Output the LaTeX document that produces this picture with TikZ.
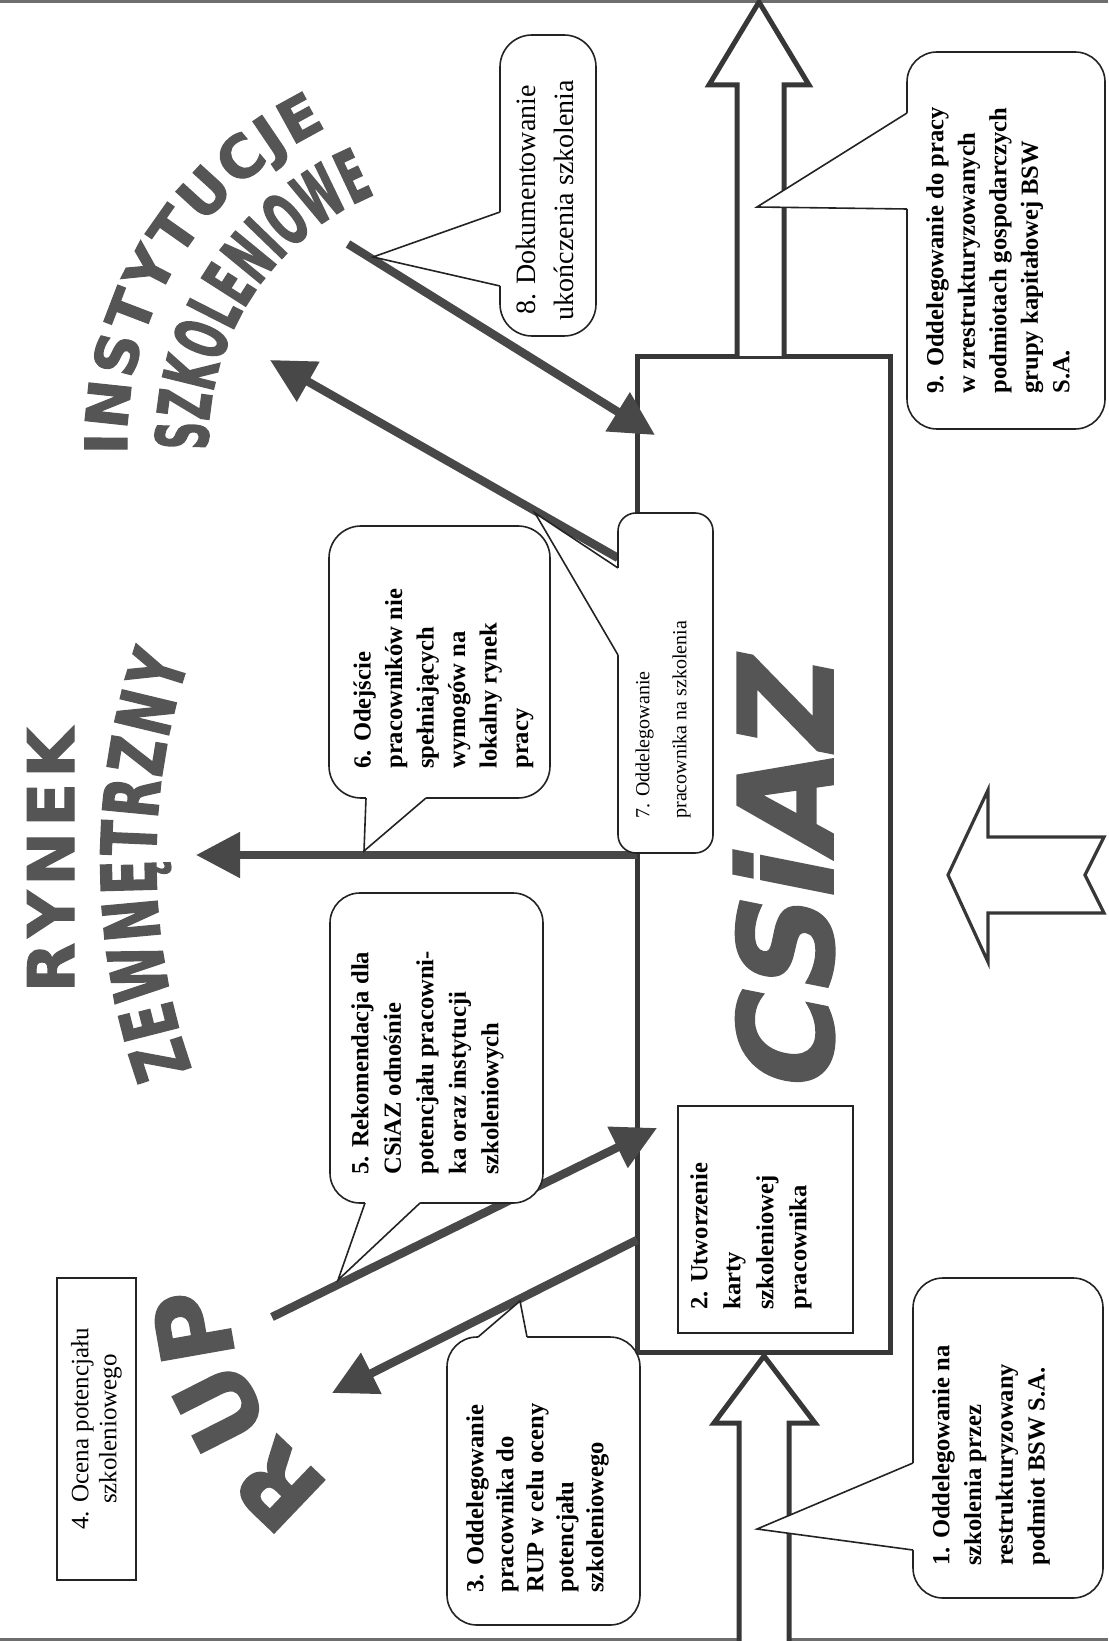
\documentclass[tikz,border=0pt]{standalone}
\usepackage{fontspec}
\setmainfont{Liberation Serif}
\newfontfamily\heavy{DejaVu Sans}[FakeBold=2]
\newfontfamily\heavyA{DejaVu Sans}[FakeStretch=0.52,FakeBold=2]
\newfontfamily\heavyB{DejaVu Sans}[FakeStretch=0.66,FakeBold=2]
\newfontfamily\heavyS{DejaVu Sans}[FakeSlant=0.2,FakeBold=2]
\usetikzlibrary{arrows.meta,decorations.text}
\definecolor{arr}{RGB}{72,72,72}
\definecolor{bigtext}{RGB}{85,85,85}
\definecolor{edge}{RGB}{55,55,55}
\definecolor{thinline}{RGB}{35,35,35}
\definecolor{rim}{RGB}{110,110,110}
\begin{document}
\begin{tikzpicture}[x=0.5pt,y=-0.5pt,
  bigarrow/.style={line width=4.2pt, draw=arr, -{Triangle[length=22pt,width=22pt]}},
  callbox/.style={draw=thinline, line width=0.8pt, fill=white, rounded corners=15pt},
  ptrline/.style={draw=thinline, line width=0.8pt, line join=miter},
  ctext/.style={rotate=90, inner sep=0pt, align=left, anchor=north west},
  hollow/.style={draw=edge, line width=2.5pt, fill=white, line join=miter},
  rupletter/.style={inner sep=0pt, text=bigtext, font=\heavy\bfseries\fontsize{50}{52}\selectfont}
]
\useasboundingbox (0,0) rectangle (1108,1641);
% scan borders
\draw[rim, line width=1.3pt] (0,1.3) -- (1108,1.3);
\draw[rim, line width=1.3pt] (0,1639.7) -- (1108,1639.7);

% arched titles
\path[decorate, decoration={text along path, text color=bigtext, text align={fit to path},
  text={|\heavy\bfseries\fontsize{29}{31}\selectfont|INSTYTUCJE}}]
  plot[domain=178.3:244.5, samples=90] ({478+351*cos(\x)}, {444+351*sin(\x)});
\path[decorate, decoration={text along path, text color=bigtext, text align={fit to path},
  text={|\heavyA\bfseries\fontsize{36}{38}\selectfont|SZKOLENIOWE}}]
  plot[domain=178.8:247.6, samples=90] ({478+270*cos(\x)}, {444+270*sin(\x)});
\path[decorate, decoration={text along path, text color=bigtext, text align={fit to path},
  text={|\heavy\bfseries\fontsize{32}{34}\selectfont|RYNEK}}]
  (74,992) -- (74,728);
\path[decorate, decoration={text along path, text color=bigtext, text align={fit to path},
  text={|\heavyB\bfseries\fontsize{38}{40}\selectfont|ZEWNĘTRZNY}}]
  plot[domain=160.5:198.7, samples=90] ({780+624*cos(\x)}, {861+624*sin(\x)});
% RUP, letter by letter along its arc
\node[rupletter, rotate=136.3] (rupR) at (278,1486) {R};
\node[rupletter, rotate=116.9] (rupU) at (220,1408) {U};
\node[rupletter, rotate=100] (rupP) at (193,1327) {P};

% main CSiAZ box
\node[draw=edge, line width=2.5pt, minimum width=126.5pt, minimum height=497.5pt, inner sep=0pt] (csiazbox) at (763.5,854.5) {};
\node[rotate=90, inner sep=0pt, text=bigtext, font=\heavyS\bfseries\fontsize{65}{70}\selectfont] (csiaz) at (784,880) {CSiAZ};

% hollow arrows
\filldraw[hollow] (737,356) -- (737,85) -- (709,85) -- (759,2) -- (809,85) -- (784,85) -- (784,356);
\filldraw[hollow] (739,1645) -- (739,1423) -- (714,1423) -- (764,1356) -- (815,1423) -- (789,1423) -- (789,1645);

% box 2 and box 4
\node[draw=thinline, line width=0.7pt, minimum width=87.5pt, minimum height=113.5pt, inner sep=0pt] (box2) at (765.5,1219.5) {};
\node[ctext, font=\bfseries\fontsize{12.3}{16.5}\selectfont] (t2) at (690,1310) {2. Utworzenie\\ karty\\ szkoleniowej\\ pracownika};
\node[draw=thinline, line width=0.7pt, rotate=90, minimum width=151pt, minimum height=39.5pt, align=center, inner sep=0pt, font=\fontsize{12.5}{14}\selectfont] (box4) at (96.5,1429) {4. Ocena potencjału\\ szkoleniowego};

% thick arrows
\coordinate (a8s) at (348,244); \coordinate (a8e) at (655,435);
\coordinate (a7s) at (618,558); \coordinate (a7e) at (270,360);
\coordinate (a6s) at (637,855); \coordinate (a6e) at (196,855);
\coordinate (a5s) at (272,1317); \coordinate (a5e) at (657,1128);
\coordinate (a3s) at (637,1240); \coordinate (a3e) at (332,1393);
\draw[bigarrow] (a8s) -- (a8e);
\draw[bigarrow] (a7s) -- (a7e);
\draw[bigarrow] (a6s) -- (a6e);
\draw[bigarrow] (a5s) -- (a5e);
\draw[bigarrow] (a3s) -- (a3e);

% callout 9
\draw[callbox] (907,52) rectangle (1105,429);
\fill[white] (907,113) -- (757,207) -- (907,209) -- (911,209) -- (911,113) -- cycle;
\draw[ptrline] (907,113) -- (757,207) -- (907,209);
\node[ctext, font=\bfseries\fontsize{12.3}{15.75}\selectfont] (t9) at (926,394) {9. Oddelegowanie do pracy\\ w zrestrukturyzowanych\\ podmiotach gospodarczych\\ grupy kapitałowej BSW\\ S.A.};

% callout 1
\draw[callbox] (913,1278) rectangle (1103,1598);
\fill[white] (913,1463) -- (757,1529) -- (913,1550) -- (917,1550) -- (917,1463) -- cycle;
\draw[ptrline] (913,1463) -- (757,1529) -- (913,1550);
\node[ctext, font=\bfseries\fontsize{12.3}{15.85}\selectfont] (t1) at (932,1566) {1. Oddelegowanie na\\ szkolenia przez\\ restrukturyzowany\\ podmiot BSW S.A.};

% callout 8
\draw[callbox, rounded corners=16pt] (500,35) rectangle (596,336);
\fill[white] (500,212) -- (373,257) -- (500,286) -- (504,286) -- (504,212) -- cycle;
\draw[ptrline] (500,212) -- (373,257) -- (500,286);
\node[rotate=90, inner sep=0pt, align=center, font=\fontsize{14}{19}\selectfont] (t8) at (545,200) {8. Dokumentowanie\\ ukończenia szkolenia};

% callout 7
\draw[callbox, rounded corners=9pt] (618,513) rectangle (713,853);
\fill[white] (618,568) -- (535,513) -- (618,655) -- (622,655) -- (622,568) -- cycle;
\draw[ptrline] (618,568) -- (535,513) -- (618,655);
\node[ctext, font=\fontsize{10}{18.5}\selectfont] (t7) at (635,819) {7. Oddelegowanie\\ pracownika na szkolenia};

% callout 6
\draw[callbox, rounded corners=16pt] (329,526) rectangle (550,798);
\fill[white] (366,798) -- (364,851) -- (426,798) -- (426,794) -- (366,794) -- cycle;
\draw[ptrline] (366,798) -- (364,851) -- (426,798);
\node[ctext, font=\bfseries\fontsize{12.3}{15.75}\selectfont] (t6) at (353,769) {6. Odejście\\ pracowników nie\\ spełniających\\ wymogów na\\ lokalny rynek\\ pracy};

% callout 5
\draw[callbox] (330,893) rectangle (543,1203);
\fill[white] (365,1203) -- (338,1280) -- (420,1203) -- (420,1199) -- (365,1199) -- cycle;
\draw[ptrline] (365,1203) -- (338,1280) -- (420,1203);
\node[ctext, font=\bfseries\fontsize{12.3}{16.25}\selectfont] (t5) at (351,1175) {5. Rekomendacja dla\\ CSiAZ odnośnie\\ potencjału pracowni-\\ ka oraz instytucji\\ szkoleniowych};

% callout 3
\draw[callbox] (447,1337) rectangle (640,1625);
\fill[white] (478,1337) -- (520,1301) -- (527,1337) -- (527,1341) -- (478,1341) -- cycle;
\draw[ptrline] (478,1337) -- (520,1301) -- (527,1337);
\node[ctext, font=\bfseries\fontsize{12.3}{15}\selectfont] (t3) at (466,1593) {3. Oddelegowanie\\ pracownika do\\ RUP w celu oceny\\ potencjału\\ szkoleniowego};

% hollow arrow pointing at the box
\filldraw[draw=edge, line width=1.6pt, fill=white, line join=miter] (948,875) -- (988,790) -- (988,837) -- (1104,837) -- (1085,875) -- (1104,913) -- (988,913) -- (988,962) -- cycle;
\end{tikzpicture}
\end{document}
